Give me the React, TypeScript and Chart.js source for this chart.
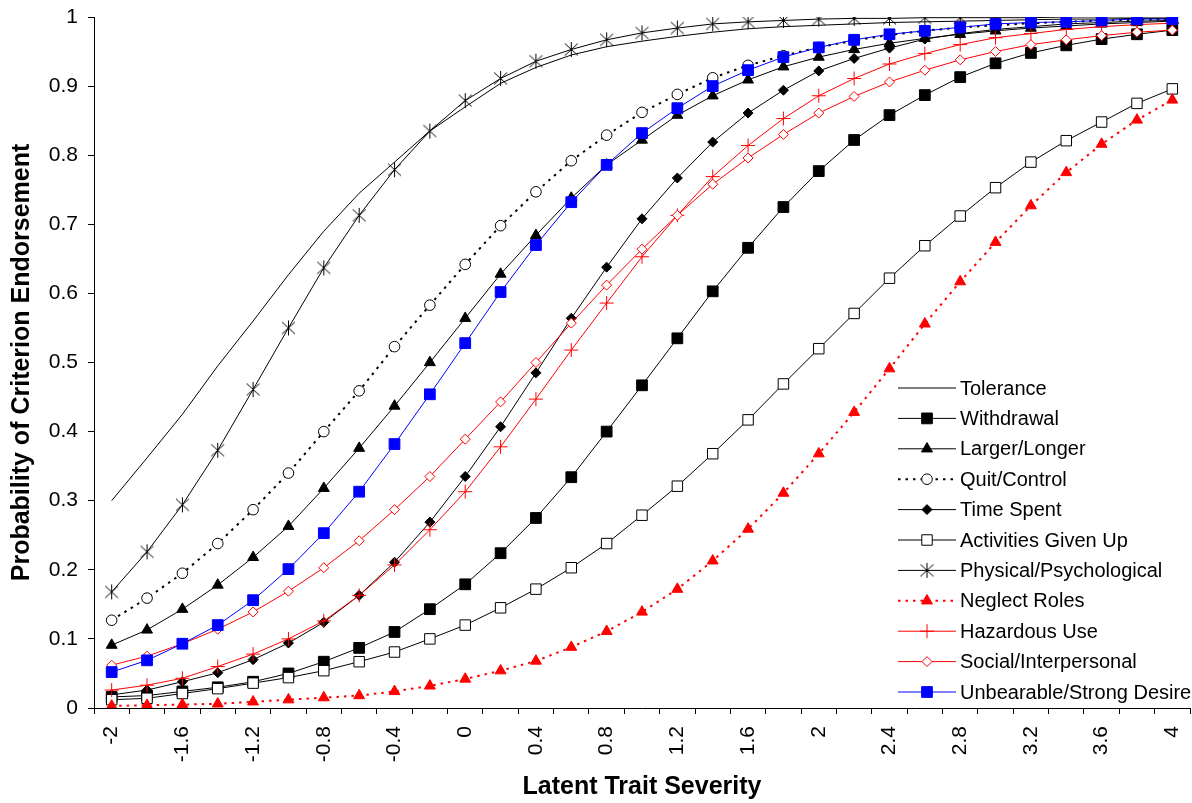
import React, { useEffect, useRef } from "react";
import { Chart, registerables } from "chart.js";
import { drawPoint } from "chart.js/helpers";

Chart.register(...registerables);

const xCategories: number[] = [
  -2, -1.8, -1.6, -1.4, -1.2, -1, -0.8, -0.6, -0.4, -0.2, 0, 0.2, 0.4, 0.6, 0.8, 1,
  1.2, 1.4, 1.6, 1.8, 2, 2.2, 2.4, 2.6, 2.8, 3, 3.2, 3.4, 3.6, 3.8, 4,
];

const tolerance = [0.30, 0.362, 0.425, 0.495, 0.56, 0.627, 0.69, 0.745, 0.79, 0.835, 0.87, 0.904, 0.927, 0.945, 0.957, 0.965, 0.972, 0.978, 0.983, 0.986, 0.988, 0.99, 0.992, 0.993, 0.994, 0.995, 0.996, 0.997, 0.997, 0.998, 0.998];
const withdrawal = [0.016, 0.018, 0.024, 0.03, 0.038, 0.05, 0.067, 0.087, 0.11, 0.143, 0.179, 0.224, 0.275, 0.334, 0.40, 0.467, 0.535, 0.603, 0.666, 0.725, 0.777, 0.822, 0.858, 0.887, 0.913, 0.933, 0.948, 0.959, 0.968, 0.975, 0.981];
const largerLonger = [0.091, 0.113, 0.143, 0.178, 0.218, 0.263, 0.318, 0.376, 0.437, 0.50, 0.564, 0.628, 0.684, 0.738, 0.786, 0.822, 0.858, 0.886, 0.909, 0.928, 0.942, 0.953, 0.962, 0.969, 0.975, 0.98, 0.984, 0.987, 0.99, 0.992, 0.994];
const quitControl = [0.127, 0.159, 0.195, 0.238, 0.287, 0.34, 0.40, 0.459, 0.523, 0.583, 0.642, 0.698, 0.747, 0.792, 0.829, 0.862, 0.888, 0.912, 0.93, 0.944, 0.956, 0.966, 0.974, 0.98, 0.985, 0.988, 0.991, 0.993, 0.995, 0.996, 0.997];
const timeSpent = [0.019, 0.026, 0.038, 0.051, 0.07, 0.094, 0.124, 0.163, 0.211, 0.269, 0.335, 0.407, 0.485, 0.564, 0.638, 0.708, 0.767, 0.819, 0.861, 0.894, 0.922, 0.94, 0.955, 0.968, 0.976, 0.982, 0.986, 0.99, 0.992, 0.994, 0.995];
const activitiesGivenUp = [0.012, 0.014, 0.021, 0.028, 0.036, 0.044, 0.054, 0.067, 0.081, 0.10, 0.12, 0.145, 0.172, 0.203, 0.238, 0.279, 0.321, 0.368, 0.417, 0.469, 0.52, 0.571, 0.622, 0.669, 0.712, 0.753, 0.79, 0.821, 0.848, 0.875, 0.896];
const physicalPsych = [0.168, 0.226, 0.294, 0.373, 0.461, 0.55, 0.637, 0.713, 0.779, 0.835, 0.879, 0.911, 0.936, 0.953, 0.967, 0.977, 0.984, 0.99, 0.993, 0.995, 0.997, 0.998, 0.998, 0.999, 0.999, 0.999, 0.999, 1, 1, 1, 1];
const neglectRoles = [0.003, 0.004, 0.005, 0.006, 0.009, 0.012, 0.015, 0.018, 0.024, 0.032, 0.042, 0.054, 0.068, 0.088, 0.111, 0.139, 0.172, 0.213, 0.259, 0.311, 0.368, 0.428, 0.491, 0.556, 0.617, 0.674, 0.727, 0.775, 0.816, 0.851, 0.88];
const hazardousUse = [0.026, 0.033, 0.043, 0.06, 0.078, 0.10, 0.126, 0.163, 0.207, 0.258, 0.313, 0.378, 0.447, 0.518, 0.586, 0.653, 0.713, 0.769, 0.814, 0.853, 0.886, 0.911, 0.932, 0.947, 0.96, 0.97, 0.976, 0.982, 0.986, 0.989, 0.991];
const socialInterpersonal = [0.062, 0.075, 0.093, 0.114, 0.139, 0.169, 0.203, 0.242, 0.287, 0.335, 0.389, 0.443, 0.50, 0.557, 0.612, 0.664, 0.713, 0.758, 0.796, 0.83, 0.861, 0.885, 0.906, 0.923, 0.938, 0.95, 0.96, 0.967, 0.973, 0.978, 0.981];
const unbearableDesire = [0.052, 0.069, 0.093, 0.12, 0.156, 0.201, 0.253, 0.313, 0.382, 0.454, 0.528, 0.602, 0.67, 0.732, 0.786, 0.832, 0.868, 0.90, 0.923, 0.942, 0.956, 0.967, 0.975, 0.98, 0.985, 0.99, 0.992, 0.993, 0.995, 0.997, 0.997];

const yTicks = [0, 0.1, 0.2, 0.3, 0.4, 0.5, 0.6, 0.7, 0.8, 0.9, 1];

const FONT = "'Liberation Sans', Arial, sans-serif";

function makeAsterisk(): HTMLCanvasElement {
  const c = document.createElement("canvas");
  c.width = 17;
  c.height = 17;
  const g = c.getContext("2d")!;
  g.strokeStyle = "#000";
  g.lineWidth = 1;
  g.beginPath();
  g.moveTo(2, 2.5);
  g.lineTo(15, 14.5);
  g.moveTo(15, 2.5);
  g.lineTo(2, 14.5);
  g.moveTo(8.5, 1);
  g.lineTo(8.5, 16);
  g.stroke();
  return c;
}

const legendPlugin = {
  id: "insideLegend",
  afterDraw(chart: any) {
    const ctx = chart.ctx as CanvasRenderingContext2D;
    const area = chart.chartArea;
    const x0 = area.right - 292;
    const y0 = area.bottom - 320;
    const step = 30.4;
    ctx.save();
    chart.data.datasets.forEach((ds: any, i: number) => {
      const y = y0 + i * step;
      ctx.beginPath();
      ctx.strokeStyle = ds.borderColor;
      ctx.lineWidth = ds.borderWidth;
      ctx.setLineDash(ds.borderDash || []);
      ctx.moveTo(x0, y);
      ctx.lineTo(x0 + 58, y);
      ctx.stroke();
      ctx.setLineDash([]);
      if (ds.pointRadius > 0) {
        ctx.fillStyle = ds.pointBackgroundColor;
        ctx.strokeStyle = ds.pointBorderColor;
        ctx.lineWidth = ds.pointBorderWidth;
        drawPoint(ctx, { pointStyle: ds.pointStyle, radius: ds.pointRadius, borderWidth: ds.pointBorderWidth, rotation: 0 } as any, x0 + 29, y);
      }
      ctx.fillStyle = "#000";
      ctx.font = `20px ${FONT}`;
      ctx.textAlign = "left";
      ctx.textBaseline = "middle";
      ctx.fillText(ds.label, x0 + 62, y + 1);
    });
    ctx.restore();
  },
};

export default function App() {
  const ref = useRef<HTMLCanvasElement | null>(null);
  useEffect(() => {
    document.body.style.margin = "0";
    const asterisk = makeAsterisk();
    const mk = (label: string, data: number[], o: any, idx: number) => ({
      label,
      data,
      borderColor: o.color,
      borderWidth: o.width ?? 1,
      borderDash: o.dash ?? [],
      pointStyle: o.style ?? "circle",
      pointRadius: o.radius ?? 0,
      pointBackgroundColor: o.fill ?? o.color,
      pointBorderColor: o.color,
      pointBorderWidth: o.pbw ?? 1,
      pointHoverRadius: o.radius ?? 0,
      tension: 0,
      fill: false,
      order: 10 - idx,
    });
    const datasets = [
      mk("Tolerance", tolerance, { color: "#000" }, 0),
      mk("Withdrawal", withdrawal, { color: "#000", style: "rect", radius: 7.6 }, 1),
      mk("Larger/Longer", largerLonger, { color: "#000", style: "triangle", radius: 6.3 }, 2),
      mk("Quit/Control", quitControl, { color: "#000", style: "circle", radius: 5.3, fill: "#fff", width: 2, dash: [2.5, 5] }, 3),
      mk("Time Spent", timeSpent, { color: "#000", style: "rectRot", radius: 5 }, 4),
      mk("Activities Given Up", activitiesGivenUp, { color: "#000", style: "rect", radius: 7.4, fill: "#fff" }, 5),
      mk("Physical/Psychological", physicalPsych, { color: "#000", style: asterisk, radius: 7 }, 6),
      mk("Neglect Roles", neglectRoles, { color: "#ff0000", style: "triangle", radius: 6.3, width: 2, dash: [2.5, 5] }, 7),
      mk("Hazardous Use", hazardousUse, { color: "#ff0000", style: "cross", radius: 7 }, 8),
      mk("Social/Interpersonal", socialInterpersonal, { color: "#ff0000", style: "rectRot", radius: 5, fill: "#fff" }, 9),
      mk("Unbearable/Strong Desire", unbearableDesire, { color: "#0000ff", style: "rect", radius: 7.6 }, 10),
    ];

    const chart = new Chart(ref.current!, {
      type: "line",
      data: { labels: xCategories.map(String), datasets: datasets as any },
      plugins: [legendPlugin],
      options: {
        animation: false,
        responsive: false,
        devicePixelRatio: 1,
        layout: { autoPadding: false, padding: { top: 17, right: 2, left: 0, bottom: 0 } },
        plugins: { legend: { display: false }, tooltip: { enabled: false } },
        elements: { line: { borderCapStyle: "butt" } },
        scales: {
          x: {
            type: "category",
            offset: true,
            grid: { offset: true, drawOnChartArea: false, drawTicks: true, tickLength: 6, color: "#000", lineWidth: 1 },
            border: { color: "#000", width: 1 },
            ticks: {
              autoSkip: false,
              maxRotation: 90,
              minRotation: 90,
              padding: 12,
              color: "#000",
              font: { size: 21, family: FONT },
              callback: (_v: any, i: number) => (i % 2 === 0 ? String(xCategories[i]) : ""),
            },
            title: {
              display: true,
              text: "Latent Trait Severity",
              color: "#000",
              font: { size: 25, weight: "bold", family: FONT },
              padding: { top: 0, bottom: 1 },
            },
            afterFit: (s: any) => {
              s.height = 95;
              s.paddingLeft = 0;
              s.paddingRight = 0;
            },
          },
          y: {
            min: 0,
            max: 1,
            afterBuildTicks: (s: any) => {
              s.ticks = yTicks.map((v) => ({ value: v }));
            },
            grid: { drawOnChartArea: false, drawTicks: true, tickLength: 6, color: "#000", lineWidth: 1 },
            border: { color: "#000", width: 1 },
            ticks: {
              padding: 10,
              color: "#000",
              font: { size: 21, family: FONT },
              callback: (v: any) => String(Number(Number(v).toFixed(1))),
            },
            title: {
              display: true,
              text: "Probability of Criterion Endorsement",
              color: "#000",
              font: { size: 25, weight: "bold", family: FONT },
              padding: { top: 7, bottom: 0 },
            },
            afterFit: (s: any) => {
              s.width = 94;
              s.paddingTop = 0;
              s.paddingBottom = 0;
            },
          },
        },
      } as any,
    });
    return () => chart.destroy();
  }, []);
  return <canvas ref={ref} width={1192} height={803} style={{ display: "block" }} />;
}
